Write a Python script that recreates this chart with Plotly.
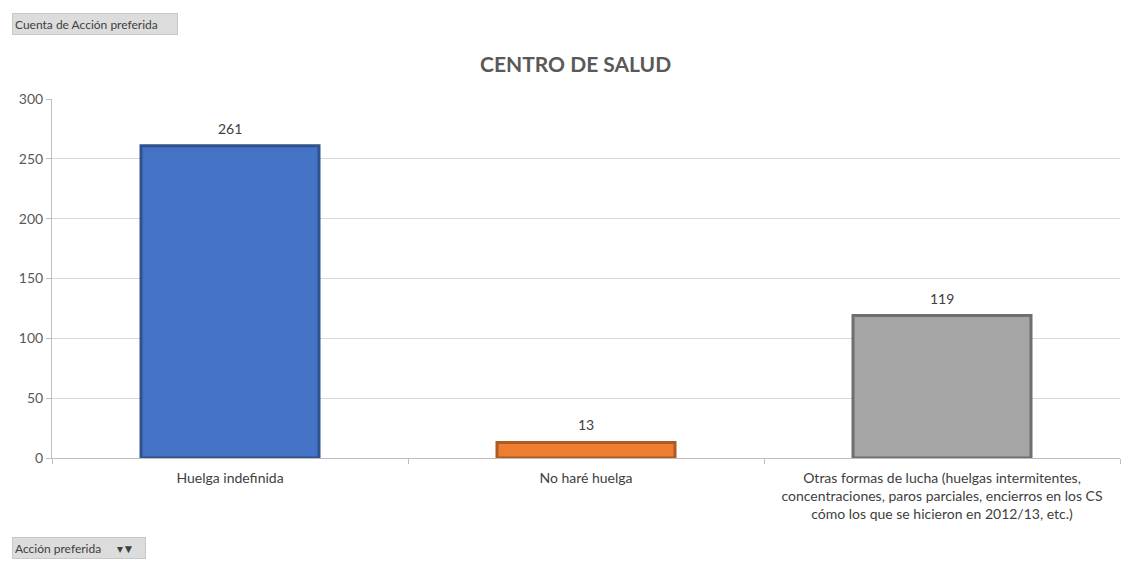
import plotly.graph_objects as go

categorias = [
    "Huelga indefinida",
    "No haré huelga",
    "Otras formas de lucha (huelgas intermitentes,<br>concentraciones, paros parciales, encierros en los CS<br>cómo los que se hicieron en 2012/13, etc.)",
]
cuenta = [261, 13, 119]
colores = ["#4472C4", "#ED7D31", "#A5A5A5"]
bordes = ["#2F528F", "#AE5A21", "#6E6E6E"]

fuente = "Lato, Carlito, 'Liberation Sans', sans-serif"

fig = go.Figure()
fig.add_trace(go.Bar(
    x=categorias,
    y=cuenta,
    width=0.5,
    marker=dict(color=colores, line=dict(color=bordes, width=3)),
))

# etiquetas de datos
for cat, val in zip(categorias, cuenta):
    fig.add_annotation(x=cat, y=val, text=str(val), showarrow=False,
                       yanchor="bottom", yshift=7,
                       font=dict(size=14, color="#404040"))

# la página añade 8 px de margen, por eso el tamaño es 1124x558
fig.update_layout(
    width=1124, height=558,
    margin=dict(l=44, r=12, t=91, b=108),
    paper_bgcolor="white",
    plot_bgcolor="white",
    font=dict(family=fuente, size=14, color="#595959"),
    showlegend=False,
    title=dict(text="<b>CENTRO DE SALUD</b>", x=0.505, xanchor="center", y=0.899, yanchor="middle",
               font=dict(size=21, color="#595959")),
    yaxis=dict(range=[0, 300], dtick=50, showgrid=True, gridcolor="#D9D9D9", gridwidth=1,
               showline=True, linecolor="#BFBFBF", ticks="outside", ticklen=5, tickcolor="#BFBFBF",
               zeroline=False, tickfont=dict(size=14, color="#595959")),
    xaxis=dict(showline=True, linecolor="#BFBFBF", ticks="outside", tickson="boundaries",
               ticklen=5, tickcolor="#BFBFBF", ticklabelstandoff=7,
               tickfont=dict(size=14, color="#404040")),
    bargap=0.5,
)

# botones de tabla dinámica
fig.add_annotation(text="Cuenta de Acción preferida", xref="paper", yref="paper",
                   x=-0.0375, y=1.21, xanchor="left", yanchor="middle", showarrow=False,
                   width=160, height=16, align="left",
                   bgcolor="#DCDCDC", bordercolor="#C8C8C8", borderwidth=1, borderpad=2,
                   font=dict(size=12, color="#404040"))
fig.add_annotation(text="Acción preferida     ▾▼", xref="paper", yref="paper",
                   x=-0.0375, y=-0.252, xanchor="left", yanchor="middle", showarrow=False,
                   width=128, height=16, align="left",
                   bgcolor="#DCDCDC", bordercolor="#C8C8C8", borderwidth=1, borderpad=2,
                   font=dict(size=12, color="#404040"))

fig.write_html("out.html")
